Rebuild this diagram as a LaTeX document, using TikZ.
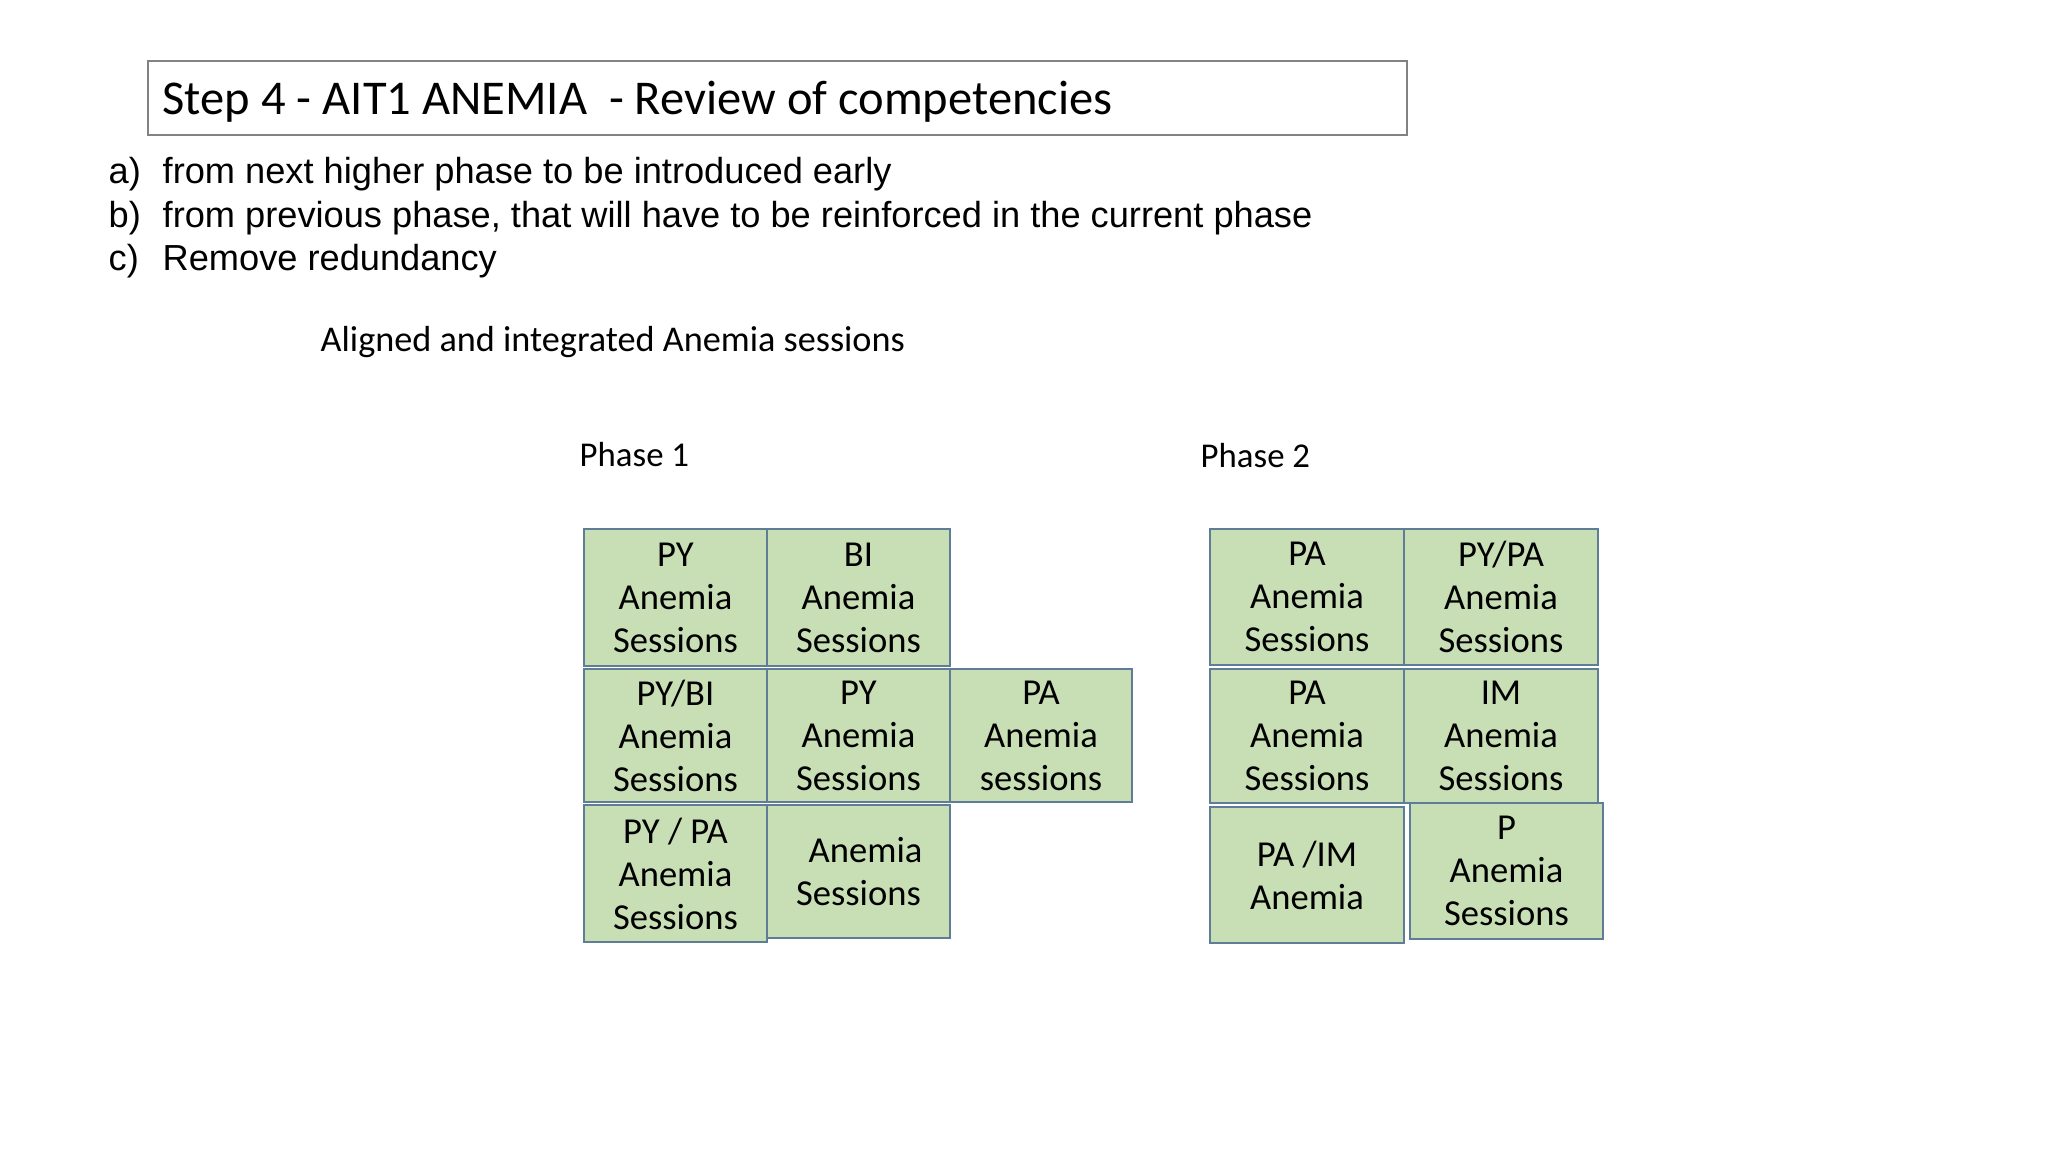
\documentclass[tikz,border=0pt]{standalone}
\usepackage{fontspec}
\setmainfont{Carlito}
\newfontfamily\arialfont{Liberation Sans}
\usetikzlibrary{positioning,fit}
\definecolor{cellGreen}{RGB}{200, 222, 180}
\definecolor{cellLine}{RGB}{95, 125, 150}
\definecolor{boxGray}{RGB}{130, 130, 130}

\begin{document}
\begin{tikzpicture}[x=0.01cm,y=-0.01cm, every node/.style={inner sep=0pt}]
  \tikzset{
    cell/.style={draw=cellLine, fill=cellGreen, line width=0.6pt},
    celltext/.style={align=center, font=\fontsize{10.4}{12.23}\selectfont},
    titlebox/.style={draw=boxGray, line width=0.7pt},
    head/.style={font=\fontsize{13.8}{16}\selectfont},
    listitem/.style={font=\arialfont\fontsize{10.3}{12}\selectfont},
    caption/.style={font=\fontsize{10.3}{12.23}\selectfont}
  }

  % page size of the slide
  \path[use as bounding box, fill=white] (0,0) rectangle (2048,1152);

  % title box
  \node[titlebox, fit={(148,61) (1407,135)}] (titleframe) {};
  \node[anchor=base west, head] (title) at (162,115) {Step 4 - AIT1 ANEMIA~ - Review of competencies};

  % list
  \node[anchor=base west, listitem] (la) at (108,184) {a)};
  \node[anchor=base west, listitem] (ta) at (162,184) {from next higher phase to be introduced early};
  \node[anchor=base west, listitem] (lb) at (108,228) {b)};
  \node[anchor=base west, listitem] (tb) at (162,228) {from previous phase, that will have to be reinforced in the current phase};
  \node[anchor=base west, listitem] (lc) at (108,271) {c)};
  \node[anchor=base west, listitem] (tc) at (162,271) {Remove redundancy};

  \node[anchor=base west, caption] (aligned) at (320,352) {Aligned and integrated Anemia sessions};

  % phase labels
  \node[anchor=base west, caption, font=\fontsize{9.9}{12}\selectfont] (phaseone) at (579,467) {Phase 1};
  \node[anchor=base west, caption, font=\fontsize{9.9}{12}\selectfont] (phasetwo) at (1200,468) {Phase 2};

  % phase 1 cells
  \node[cell, fit={(584,529) (767,666)}] (pyone) {};
  \node[celltext] at (pyone.center) {PY\\Anemia\\Sessions};
  \node[cell, fit={(767,529) (950,666)}] (bione) {};
  \node[celltext] at (bione.center) {BI\\Anemia\\Sessions};
  \node[cell, fit={(584,669) (767,802)}] (pybione) {};
  \node[celltext] at (pybione.center) {PY/BI\\Anemia\\Sessions};
  \node[cell, fit={(767,669) (950,802)}] (pytwo) {};
  \node[celltext] at (pytwo.center) {PY\\Anemia\\Sessions};
  \node[cell, fit={(950,669) (1132,802)}] (paone) {};
  \node[celltext] at (paone.center) {PA\\Anemia\\sessions};
  \node[cell, fit={(584,805) (767,942)}] (pypaone) {};
  \node[celltext] at (pypaone.center) {PY / PA\\Anemia\\Sessions};
  \node[cell, fit={(767,805) (950,938)}] (anone) {};
  \node[celltext] at (anone.center) {\hspace*{4pt}Anemia\\Sessions};

  % phase 2 cells
  \node[cell, fit={(1210,529) (1404,665)}] (patwo) {};
  \node[celltext] at (patwo.center) {PA\\Anemia\\Sessions};
  \node[cell, fit={(1404,529) (1598,665)}] (pypatwo) {};
  \node[celltext] at (pypatwo.center) {PY/PA\\Anemia\\Sessions};
  \node[cell, fit={(1210,669) (1404,803)}] (pathree) {};
  \node[celltext] at (pathree.center) {PA\\Anemia\\Sessions};
  \node[cell, fit={(1404,669) (1598,803)}] (imtwo) {};
  \node[celltext] at (imtwo.center) {IM\\Anemia\\Sessions};
  \node[cell, fit={(1210,807) (1404,943)}] (paimtwo) {};
  \node[celltext] at (paimtwo.center) {PA /IM\\Anemia};
  \node[cell, fit={(1410,803) (1603,939)}] (ptwo) {};
  \node[celltext] at (ptwo.center) {P\\Anemia\\Sessions};

\end{tikzpicture}
\end{document}
